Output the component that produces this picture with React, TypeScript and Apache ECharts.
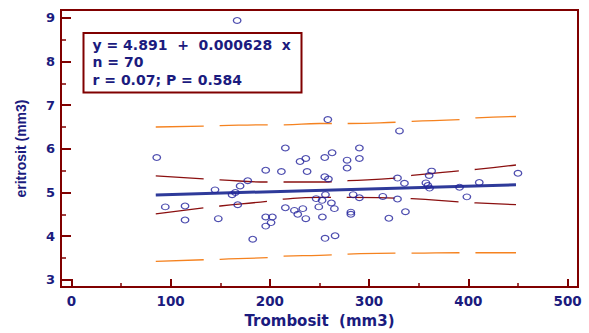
import React, { useEffect, useRef } from "react";
import * as echarts from "echarts";

// Scatter points (Trombosit, eritrosit)
const trombosit = [
  86, 94.6, 114.5, 114.5, 144.7, 148, 161.9, 165.2, 170, 177.7, 167.6, 182.7, 167,
  195.8, 195.8, 202.5, 201.2, 195.8, 215.6, 211.6, 215.6, 224.7, 228.1, 233.2, 236.2,
  230.4, 236.2, 237.5, 258.4, 255.3, 262.7, 255.3, 259, 256, 246.6, 252.6, 249.3, 262,
  265, 252.9, 255.6, 265.7, 277.8, 277.8, 290.2, 290.2, 281.6, 281.6, 283.9, 290.2,
  313.8, 319.9, 330.6, 328.6, 328.6, 335.6, 336.6, 363, 360.5, 357.2, 359.2, 360.9,
  391.1, 398.5, 411, 450,
];
const eritrosit = [
  5.8, 4.67, 4.69, 4.37, 5.06, 4.4, 4.95, 5.0, 5.15, 5.27, 4.72, 3.93, 8.94,
  5.51, 4.44, 4.44, 4.31, 4.23, 6.02, 5.48, 4.65, 4.59, 4.5, 4.63, 4.4,
  5.71, 5.78, 5.48, 6.67, 5.8, 5.91, 5.36, 5.31, 4.95, 4.86, 4.82, 4.67, 4.76,
  4.63, 4.44, 3.95, 4.01, 5.74, 5.56, 6.02, 5.78, 4.55, 4.5, 4.95, 4.88,
  4.91, 4.41, 6.41, 5.33, 4.85, 5.21, 4.56, 5.49, 5.39, 5.22, 5.16, 5.1,
  5.12, 4.9, 5.23, 5.44,
];

// Regression line end points
const regX = [85, 448];
const regY = [4.945, 5.175];

// Confidence / prediction bands
const bandX = [85, 134, 150, 198, 214, 250, 279, 328, 343, 392, 408, 448];
const ciUpper = [5.38, 5.31, 5.29, 5.24, 5.24, 5.24, 5.27, 5.33, 5.39, 5.5, 5.53, 5.63];
const ciLower = [4.51, 4.65, 4.69, 4.8, 4.85, 4.89, 4.89, 4.87, 4.86, 4.78, 4.76, 4.72];
const piUpper = [6.5, 6.52, 6.53, 6.55, 6.55, 6.58, 6.58, 6.61, 6.63, 6.67, 6.71, 6.74];
const piLower = [3.42, 3.46, 3.47, 3.51, 3.54, 3.56, 3.59, 3.61, 3.61, 3.62, 3.62, 3.62];

// Axis ticks
const xMajor = [0, 100, 200, 300, 400, 500];
const xMinor = [50, 150, 250, 350, 450];
const yMajor = [3, 4, 5, 6, 7, 8, 9];
const yMinor = [3.5, 4.5, 5.5, 6.5, 7.5, 8.5];

const legendLines = ["y = 4.891  +  0.000628  x", "n = 70", "r = 0.07; P = 0.584"];

const FRAME = "#800000";
const TEXT = "#1b1b7e";
const WIDE = '"DejaVu Sans", Verdana, sans-serif';
const NARROW = '"Liberation Sans", Arial, sans-serif';

export default function App() {
  const ref = useRef<HTMLDivElement>(null);
  useEffect(() => {
    if (!ref.current) return;
    const chart = echarts.init(ref.current, null, { renderer: "svg" });
    const zip = (a: number[], b: number[]) => a.map((v, i) => [v, b[i]]);
    const X_MIN = -10.5, X_MAX = 510.5, Y_MIN = 2.835, Y_MAX = 9.18;
    const bandLine = (name: string, ys: number[], color: string) => ({
      name,
      type: "line",
      data: zip(bandX, ys),
      showSymbol: false,
      symbol: "none",
      smooth: true,
      lineStyle: { color, width: 1.3, type: [48, 16] },
      z: 2,
    });
    chart.setOption({
      animation: false,
      grid: {
        left: 61, top: 10, right: 11, bottom: 43,
        show: true, borderColor: FRAME, borderWidth: 2,
      },
      xAxis: [
        {
          type: "value", min: X_MIN, max: X_MAX,
          splitLine: { show: false },
          axisLine: { show: true, onZero: false, lineStyle: { color: FRAME, width: 2 } },
          axisTick: { show: true, inside: true, length: 8, customValues: xMajor, lineStyle: { color: FRAME, width: 2 } },
          axisLabel: {
            customValues: xMajor, margin: 7, color: TEXT,
            fontFamily: WIDE, fontWeight: "bold", fontSize: 13.5,
          },
          name: "Trombosit  (mm3)", nameLocation: "middle", nameGap: 26,
          nameTextStyle: { color: TEXT, fontFamily: WIDE, fontWeight: "bold", fontSize: 15 },
        },
        {
          type: "value", min: X_MIN, max: X_MAX, position: "bottom",
          splitLine: { show: false },
          axisLine: { show: false, onZero: false },
          axisTick: { show: true, inside: true, length: 4, customValues: xMinor, lineStyle: { color: FRAME, width: 1.5 } },
          axisLabel: { show: false },
        },
      ],
      yAxis: [
        {
          type: "value", min: Y_MIN, max: Y_MAX,
          splitLine: { show: false },
          axisLine: { show: true, onZero: false, lineStyle: { color: FRAME, width: 2 } },
          axisTick: { show: true, inside: true, length: 10, customValues: yMajor, lineStyle: { color: FRAME, width: 2 } },
          axisLabel: {
            customValues: yMajor, margin: 6, color: TEXT,
            fontFamily: WIDE, fontWeight: "bold", fontSize: 13,
          },
          name: "eritrosit (mm3)", nameLocation: "middle", nameGap: 33,
          nameTextStyle: { color: TEXT, fontFamily: NARROW, fontWeight: "bold", fontSize: 14 },
        },
        {
          type: "value", min: Y_MIN, max: Y_MAX, position: "left",
          splitLine: { show: false },
          axisLine: { show: false, onZero: false },
          axisTick: { show: true, inside: true, length: 5, customValues: yMinor, lineStyle: { color: FRAME, width: 1.5 } },
          axisLabel: { show: false },
        },
      ],
      series: [
        bandLine("piUpper", piUpper, "#f5821f"),
        bandLine("piLower", piLower, "#f5821f"),
        bandLine("ciUpper", ciUpper, "#8b1010"),
        bandLine("ciLower", ciLower, "#8b1010"),
        {
          name: "regression",
          type: "line",
          data: zip(regX, regY),
          symbol: "none",
          lineStyle: { color: "#2e3a9a", width: 3 },
          z: 3,
        },
        {
          name: "points",
          type: "scatter",
          data: zip(trombosit, eritrosit),
          symbol: "circle",
          symbolSize: [7.5, 5.8],
          itemStyle: { color: "rgba(255,255,255,0)", borderColor: "#22229b", borderWidth: 1.2 },
          z: 4,
        },
      ],
      graphic: [
        {
          type: "rect",
          shape: { x: 83.5, y: 33, width: 218, height: 59.5 },
          style: { fill: "#fff", stroke: FRAME, lineWidth: 2 },
          z: 10,
        },
        ...legendLines.map((t, i) => ({
          type: "text",
          x: 92.5,
          y: 45 + i * 17.3,
          z: 11,
          style: {
            text: t, fill: TEXT, font: `bold 14px ${WIDE}`,
            textVerticalAlign: "middle", verticalAlign: "middle",
          },
        })),
      ],
    });
    return () => chart.dispose();
  }, []);
  return (
    <div
      ref={ref}
      style={{ position: "fixed", left: 0, top: 0, width: 589, height: 333, background: "#fff" }}
    />
  );
}
